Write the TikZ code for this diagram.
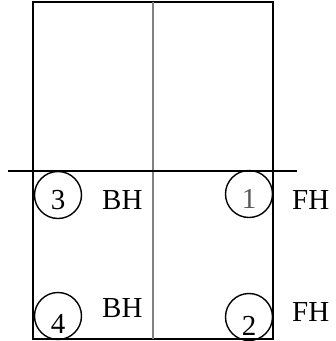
\documentclass[tikz,border=0pt]{standalone}
\usepackage{fontspec}
\setmainfont{Liberation Serif}
\begin{document}
\begin{tikzpicture}[x=1pt, y=-1pt, font=\fontsize{29}{34}\selectfont,
  wheel/.style={draw, circle, line width=1.4pt, minimum size=47pt, inner sep=0pt},
  num/.style={inner sep=0pt},
  side/.style={inner sep=0pt, anchor=west}]
  \useasboundingbox (0,0) rectangle (336,341);
  % Outline and axes
  \draw[line width=1.7pt] (33,2) rectangle (273,339);
  \draw[gray, line width=1.3pt] (153,2) -- (153,339);
  \draw[line width=1.3pt] (8,171) -- (297,171);
  % Wheels
  \node[wheel] (w3) at (58,195) {};
  \node[wheel] (w1) at (249,194) {};
  \node[wheel] (w4) at (58,316) {};
  \node[wheel] (w2) at (249,317) {};
  \node[num] at ([yshift=-5pt]w3.center) {3};
  \node[num, text=black!65] at ([yshift=-5pt]w1.center) {1};
  \node[num] at ([yshift=-8pt]w4.center) {4};
  \node[num] at ([yshift=-9pt]w2.center) {2};
  % Labels
  \node[side] (bh3) at (102,200) {BH};
  \node[side] (fh1) at (292,200) {FH};
  \node[side] (bh4) at (102,308) {BH};
  \node[side] (fh2) at (292,312) {FH};
\end{tikzpicture}
\end{document}
